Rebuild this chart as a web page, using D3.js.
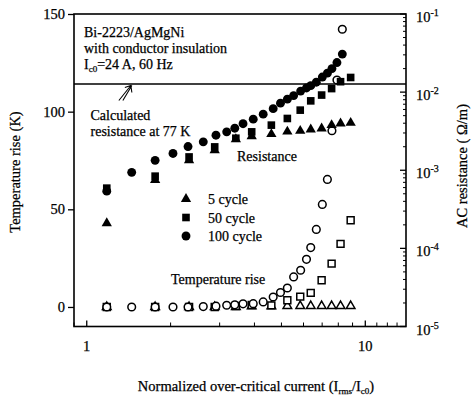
<!DOCTYPE html>
<html>
<head>
<meta charset="utf-8">
<script src="https://cdn.jsdelivr.net/npm/d3@7"></script>
<style>
  body { margin: 0; background: #fff; }
  text { font-family: "Liberation Serif", "Times New Roman", serif; fill: #000; stroke: #000; stroke-width: 0.25px; }
</style>
</head>
<body>
<svg id="drawing_region"></svg>
<script>
// normalized current (Irms/Ic0) of each measurement
const current100 = [1.18, 1.45, 1.76, 2.04, 2.31, 2.62, 2.91, 3.18, 3.40, 3.64, 3.96, 4.30, 4.67,
                    4.96, 5.25, 5.53, 5.86, 6.15, 6.37, 6.67, 7.01, 7.31, 7.59, 7.91, 8.27];
const current50 = [1.18, 1.76, 2.33, 2.88, 3.43, 3.91, 4.60, 5.25, 5.84, 6.37, 6.97, 7.57, 8.15, 8.86];
const current5 = current50;

// AC resistance (ohm/m), right axis
const resist100 = [5.4e-4, 9.4e-4, 1.34e-3, 1.64e-3, 2.01e-3, 2.31e-3, 2.81e-3, 3.10e-3, 3.45e-3,
                   3.94e-3, 4.51e-3, 5.22e-3, 6.14e-3, 7.22e-3, 8.13e-3, 9.02e-3, 1.03e-2, 1.13e-2,
                   1.21e-2, 1.34e-2, 1.56e-2, 1.75e-2, 2.00e-2, 2.39e-2, 3.07e-2];
const resist50 = [5.9e-4, 8.4e-4, 1.48e-3, 1.99e-3, 2.57e-3, 3.10e-3, 3.78e-3, 4.60e-3, 5.88e-3,
                  7.73e-3, 9.17e-3, 1.11e-2, 1.36e-2, 1.54e-2];
const resist5 = [2.1e-4, 7.5e-4, 1.34e-3, 1.80e-3, 2.49e-3, 2.73e-3, 2.90e-3, 3.12e-3, 3.19e-3,
                 3.32e-3, 3.43e-3, 3.78e-3, 3.97e-3, 4.04e-3];

// temperature rise (K), left axis
const temp100 = [0, 0, 0, 0, 0, 0.2, 0.4, 0.9, 1.1, 1.6, 1.7, 2.6, 5.1, 7.4, 9.7, 15.4, 18.8, 24.4,
                 30.4, 39.7, 52.5, 65.3, 90.2, 116.2, 142.2];
const temp50 = [0, 0, 0, 0, 0.5, 1.0, 0.8, 3.4, 5.3, 7.2, 13.7, 22.2, 32.3, 44.4];
const temp5 = [0, 0, 0, 0, 0, 0.3, 0.3, 0.5, 0.5, 0.5, 0.5, 0.5, 0.5, 0.5];

const calcResistance = 1.27e-2;   // calculated resistance at 77 K

const tempTicks = [0, 50, 100, 150];
const resistTicks = [1e-5, 1e-4, 1e-3, 1e-2, 1e-1];
const currentTicks = [1, 10];
const legendLabels = ['5 cycle', '50 cycle', '100 cycle'];

const config = {
    parent: '#drawing_region',
    width: 471,
    height: 399,
    margin: {top: 14, right: 65, bottom: 72.5, left: 74}
};

const svg = d3.select(config.parent)
    .attr('width', config.width)
    .attr('height', config.height);

const inner_width = config.width - config.margin.left - config.margin.right;
const inner_height = config.height - config.margin.top - config.margin.bottom;

const chart = svg.append('g')
    .attr('transform', `translate(${config.margin.left}, ${config.margin.top})`);

const xscale = d3.scaleLog().domain([0.9, 14]).range([0, inner_width]);
const tscale = d3.scaleLinear().domain([-10, 150]).range([inner_height, 0]);
const rscale = d3.scaleLog().domain([1e-5, 1e-1]).range([inner_height, 0]);

// frame
chart.append('rect')
    .attr('width', inner_width)
    .attr('height', inner_height)
    .attr('fill', 'none')
    .attr('stroke', '#000')
    .attr('stroke-width', 1.6);

// left axis: outward ticks
const yaxis = d3.axisLeft(tscale).tickValues(tempTicks).tickSize(6).tickPadding(3);
const yaxis_group = chart.append('g').call(yaxis);
yaxis_group.select('.domain').remove();
yaxis_group.selectAll('text').style('font-size', '14.5px');
yaxis_group.selectAll('line').attr('stroke-width', 1.3);

// bottom axis: inward ticks
const minorX = [0.9, 2, 3, 4, 5, 6, 7, 8, 9, 11, 12, 13];
const xaxis_group = chart.append('g').attr('transform', `translate(0, ${inner_height})`);
xaxis_group.selectAll('line.minor')
    .data(minorX).join('line')
    .attr('x1', d => xscale(d)).attr('x2', d => xscale(d))
    .attr('y1', 0).attr('y2', -4)
    .attr('stroke', '#000').attr('stroke-width', 1);
xaxis_group.selectAll('line.major')
    .data(currentTicks).join('line')
    .attr('x1', d => xscale(d)).attr('x2', d => xscale(d))
    .attr('y1', 0).attr('y2', -6)
    .attr('stroke', '#000').attr('stroke-width', 1.3);
xaxis_group.selectAll('text')
    .data(currentTicks).join('text')
    .attr('x', d => xscale(d))
    .attr('y', 24)
    .attr('text-anchor', 'middle')
    .style('font-size', '14.5px')
    .text(d => d);

// right axis: inward ticks with minor log ticks
const raxis_group = chart.append('g').attr('transform', `translate(${inner_width}, 0)`);
const minorR = [];
resistTicks.slice(0, -1).forEach(t => {
    for (let k = 2; k <= 9; k++) minorR.push(t * k);
});
raxis_group.selectAll('line.minor')
    .data(minorR).join('line')
    .attr('x1', 0).attr('x2', -3)
    .attr('y1', d => rscale(d)).attr('y2', d => rscale(d))
    .attr('stroke', '#000').attr('stroke-width', 1);
raxis_group.selectAll('line.major')
    .data(resistTicks).join('line')
    .attr('x1', 0).attr('x2', -6)
    .attr('y1', d => rscale(d)).attr('y2', d => rscale(d))
    .attr('stroke', '#000').attr('stroke-width', 1.3);
const rlabels = raxis_group.selectAll('text')
    .data(resistTicks).join('text')
    .attr('x', 10)
    .attr('y', d => rscale(d) + 8)
    .style('font-size', '14.5px');
rlabels.append('tspan').text('10');
rlabels.append('tspan')
    .attr('dy', -6)
    .style('font-size', '10px')
    .text(d => Math.round(Math.log10(d)));

// calculated resistance line and its arrow
chart.append('line')
    .attr('x1', 0).attr('x2', inner_width)
    .attr('y1', rscale(calcResistance)).attr('y2', rscale(calcResistance))
    .attr('stroke', '#000').attr('stroke-width', 1.4);

const tipX = xscale(1.44), tipY = rscale(calcResistance) + 1.5;
chart.append('path')
    .attr('d', `M${tipX - 12},${tipY + 15} L${tipX},${tipY} M${tipX - 8},${tipY + 15} L${tipX + 1},${tipY}
                M${tipX - 6},${tipY + 2} L${tipX},${tipY} L${tipX + 1},${tipY + 7}`)
    .attr('fill', 'none')
    .attr('stroke', '#000')
    .attr('stroke-width', 1.1);

// markers
const sym = (type, size) => d3.symbol().type(type).size(size)();

function drawSeries(xs, ys, yscale, type, size, filled) {
    chart.append('g')
        .selectAll('path')
        .data(xs.map((d, i) => ({x: d, y: ys[i]})))
        .join('path')
        .attr('transform', d => `translate(${xscale(d.x)}, ${yscale(d.y)})`)
        .attr('d', sym(type, size))
        .attr('fill', filled ? '#000' : '#fff')
        .attr('stroke', '#000')
        .attr('stroke-width', filled ? 0 : 1.5);
}

// temperature rise (open)
drawSeries(current5, temp5, tscale, d3.symbolTriangle, 32, false);
drawSeries(current50, temp50, tscale, d3.symbolSquare, 48, false);
drawSeries(current100, temp100, tscale, d3.symbolCircle, 46, false);

// resistance (filled)
drawSeries(current5, resist5, rscale, d3.symbolTriangle, 46, true);
drawSeries(current50, resist50, rscale, d3.symbolSquare, 58, true);
drawSeries(current100, resist100, rscale, d3.symbolCircle, 62, true);

// legend
const legendTypes = [d3.symbolTriangle, d3.symbolSquare, d3.symbolCircle];
const legendSizes = [46, 58, 62];
const legend = chart.append('g').attr('transform', 'translate(112, 185)');
legendLabels.forEach((label, i) => {
    legend.append('path')
        .attr('transform', `translate(0, ${i * 18.5})`)
        .attr('d', sym(legendTypes[i], legendSizes[i]))
        .attr('fill', '#000');
    legend.append('text')
        .attr('x', 22)
        .attr('y', i * 18.5 + 5)
        .style('font-size', '14px')
        .text(label);
});

// annotations
const note = chart.append('g').style('font-size', '14px');
note.append('text').attr('x', 10).attr('y', 23).text('Bi-2223/AgMgNi');
note.append('text').attr('x', 10).attr('y', 39).text('with conductor insulation');
const ic = note.append('text').attr('x', 10).attr('y', 55);
ic.append('tspan').text('I');
ic.append('tspan').attr('dy', 3).style('font-size', '9px').text('c0');
ic.append('tspan').attr('dy', -3).text('=24 A, 60 Hz');

note.append('text').attr('x', 16.5).attr('y', 106).text('Calculated');
note.append('text').attr('x', 16.5).attr('y', 122).text('resistance at 77 K');
note.append('text').attr('x', 163).attr('y', 147).text('Resistance');
note.append('text').attr('x', 97).attr('y', 270).text('Temperature rise');

// axis titles
svg.append('text')
    .attr('transform', 'translate(20, 172) rotate(-90)')
    .attr('text-anchor', 'middle')
    .style('font-size', '14.5px')
    .text('Temperature rise (K)');

svg.append('text')
    .attr('transform', 'translate(467, 166) rotate(-90)')
    .attr('text-anchor', 'middle')
    .style('font-size', '14.5px')
    .text('AC resistance ( \u03A9/m)');

const xt = svg.append('text')
    .attr('x', 256)
    .attr('y', 391)
    .attr('text-anchor', 'middle')
    .style('font-size', '14.5px');
xt.append('tspan').text('Normalized over-critical current (I');
xt.append('tspan').attr('dy', 3).style('font-size', '9px').text('rms');
xt.append('tspan').attr('dy', -3).text('/I');
xt.append('tspan').attr('dy', 3).style('font-size', '9px').text('c0');
xt.append('tspan').attr('dy', -3).text(')');
</script>
</body>
</html>
